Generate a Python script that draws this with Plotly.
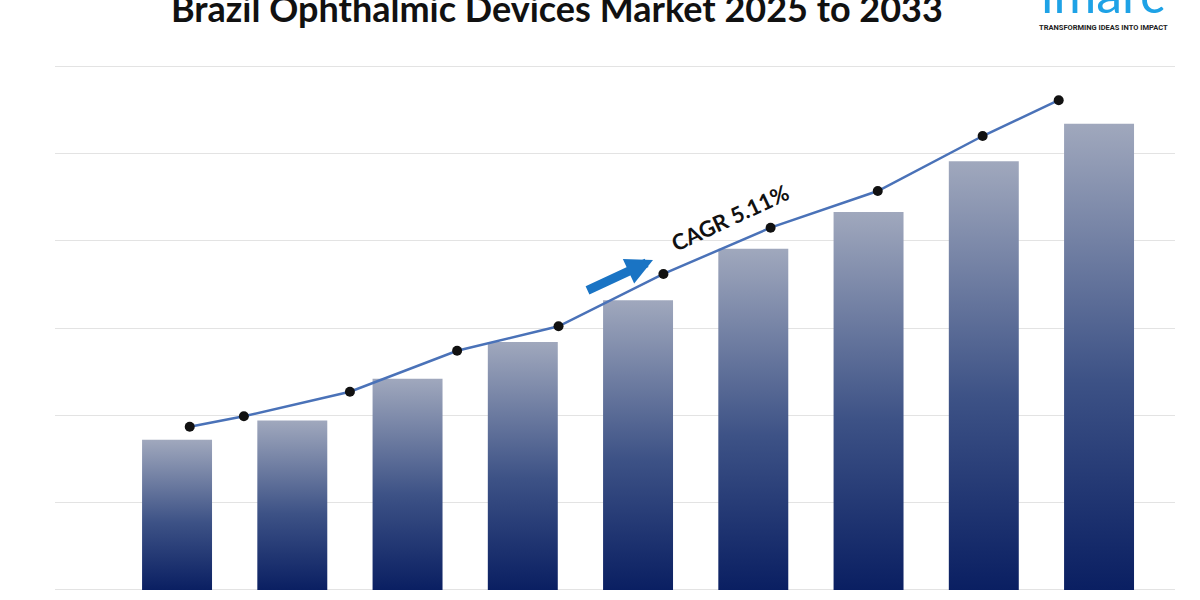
import plotly.graph_objects as go

# ---- data ----
years = [2025, 2026, 2027, 2028, 2029, 2030, 2031, 2032, 2033]
bar_values = [1.72, 1.94, 2.42, 2.84, 3.32, 3.91, 4.33, 4.91, 5.34]

trend_x = [2025.11, 2025.58, 2026.50, 2027.43, 2028.31, 2029.22, 2030.15, 2031.08, 2031.99, 2032.65]
trend_y = [1.87, 1.99, 2.27, 2.74, 3.02, 3.62, 4.15, 4.57, 5.20, 5.61]

title_text = "Brazil Ophthalmic Devices Market 2025 to 2033"
cagr_text = "CAGR 5.11%"
logo_text = "imarc"
logo_tagline = "TRANSFORMING IDEAS INTO IMPACT"

# ---- styling ----
BAR_WIDTH = 0.607
GRADIENT = [[0.0, "#0a1f62"], [0.45, "#3d5286"], [1.0, "#a0a8bd"]]

fig = go.Figure()

for yr, val in zip(years, bar_values):
    h = BAR_WIDTH / 2
    fig.add_trace(go.Scatter(
        x=[yr - h, yr + h, yr + h, yr - h, yr - h],
        y=[0, 0, val, val, 0],
        mode="lines",
        line=dict(width=0),
        fill="toself",
        fillgradient=dict(type="vertical", colorscale=GRADIENT),
        hoverinfo="skip",
        showlegend=False,
    ))

fig.add_trace(go.Scatter(
    x=trend_x, y=trend_y,
    mode="lines+markers",
    line=dict(color="#4a72b8", width=2.5),
    marker=dict(color="#111111", size=10),
    showlegend=False,
    hoverinfo="skip",
))

fig.update_layout(
    width=1200, height=600,
    margin=dict(l=55, r=25, t=0, b=0),
    paper_bgcolor="white",
    plot_bgcolor="white",
    showlegend=False,
    xaxis=dict(range=[2023.941, 2033.659], showgrid=False, zeroline=False,
               showticklabels=False, ticks="", fixedrange=True),
    yaxis=dict(range=[-0.115, 6.758], showgrid=True, gridcolor="#e3e3e3",
               gridwidth=1, dtick=1, tick0=0, zeroline=False,
               showticklabels=False, ticks="", fixedrange=True),
)

annotations = [
    dict(text="<b>" + title_text + "</b>", xref="paper", yref="paper",
         x=0.4482, y=1 - 8 / 600, xanchor="center", yanchor="middle", showarrow=False,
         font=dict(family="Lato", size=36, color="#111111")),
    dict(text=logo_text, xref="paper", yref="paper",
         x=0.9357, y=1 - 14 / 600, xanchor="center", yanchor="bottom", showarrow=False,
         font=dict(family="Lato", size=52, color="#1ea2e6"), yshift=-12),
    dict(text="<b>" + logo_tagline + "</b>", xref="paper", yref="paper",
         x=0.9366, y=1 - 27 / 600, xanchor="center", yanchor="middle", showarrow=False,
         font=dict(family="Roboto", size=7.5, color="#222222")),
    dict(text="<b>" + cagr_text + "</b>", xref="paper", yref="paper",
         x=0.6027, y=1 - 218 / 600, xanchor="center", yanchor="middle", showarrow=False,
         textangle=-25, font=dict(family="Lato", size=22, color="#111111")),
    dict(text="", xref="paper", yref="paper",
         x=(653 - 55) / 1120, y=1 - 260 / 600, ax=-67, ay=31,
         showarrow=True, arrowhead=2, arrowsize=0.6, arrowwidth=9,
         arrowcolor="#1a74c4"),
]
fig.update_layout(annotations=annotations)

fig.write_html("out.html")
